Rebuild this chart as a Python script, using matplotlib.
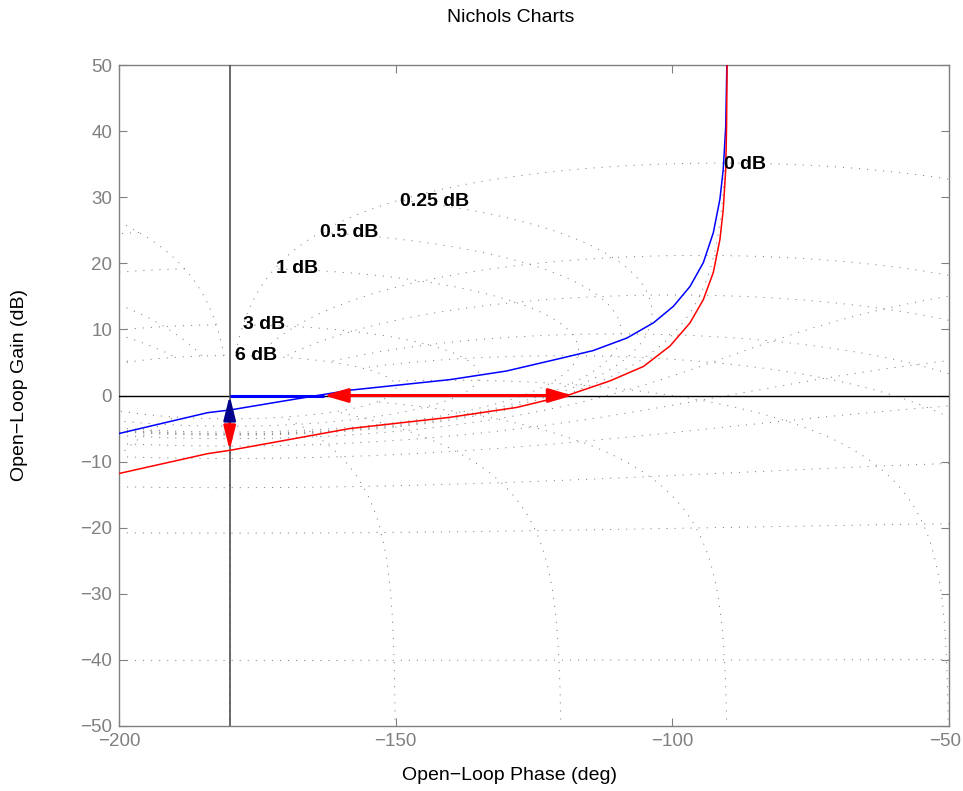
import numpy as np
import matplotlib
matplotlib.use("Agg")
import matplotlib.pyplot as plt
import matplotlib.transforms as mtransforms
from matplotlib.patches import FancyArrowPatch

# ---------------- data ----------------
blue_phase = [-200.0, -184.0, -180.0, -170.0, -158.3, -140.2, -130.0, -120.3, -114.3,
              -108.2, -103.4, -99.8, -96.8, -94.4, -92.6, -91.4, -90.8, -90.35, -90.15]
blue_gain = [-5.75, -2.6, -2.2, -0.8, 0.8, 2.4, 3.7, 5.6, 6.8,
             8.7, 11.0, 13.5, 16.5, 20.1, 24.6, 29.7, 34.2, 40.7, 50.0]

red_phase = [-200.0, -184.0, -180.0, -158.3, -140.2, -128.1, -118.5, -111.3, -105.2,
             -100.4, -96.8, -94.4, -92.6, -91.4, -90.8, -90.35, -90.2, -90.1]
red_gain = [-11.8, -8.8, -8.3, -5.0, -3.3, -1.8, 0.15, 2.2, 4.4,
            7.5, 11.0, 14.5, 18.6, 23.6, 28.1, 34.2, 40.7, 50.0]

# margins (arrows)
gm_blue = -2.2
gm_red = -8.3
pm_blue = -163.0
pm_red = -118.0
crit_phase = -180.0

# Nichols grid levels (closed-loop gain in dB, closed-loop phase in deg)
grid_gains_db = [6, 3, 1, 0.5, 0.25, 0, -1, -3, -6, -12, -20, -40, -60, -80, -100, -120]
grid_phases_deg = [-1, -5, -10, -20, -30, -50, -90, -120, -150, -180]
grid_cl_phase_min = 1.0      # closed-loop phase range of gain contours (deg)
grid_cl_gain_max = 6.0       # closed-loop gain range of phase contours (dB)

label_texts = ["6 dB", "3 dB", "1 dB", "0.5 dB", "0.25 dB", "0 dB"]
label_phase = [-179.0, -177.6, -171.6, -163.7, -149.2, -90.7]
label_gain = [6.1, 10.7, 19.2, 24.7, 29.3, 34.9]

x_ticks = [-200, -150, -100, -50]
y_ticks = [-50, -40, -30, -20, -10, 0, 10, 20, 30, 40, 50]

title_text = "Nichols Charts"
xlabel_text = "Open\u2212Loop Phase (deg)"
ylabel_text = "Open\u2212Loop Gain (dB)"

# ---------------- style ----------------
plt.rcParams["font.family"] = ["Liberation Sans", "DejaVu Sans"]
plt.rcParams["lines.scale_dashes"] = False
FS = 14
GRAY = "#808080"

fig = plt.figure(figsize=(9.63, 7.91), dpi=100)
ax = fig.add_axes([119 / 963, 1 - 726 / 791, (949 - 119) / 963, (726 - 65) / 791])
ax.set_xlim(-200, -50)
ax.set_ylim(-50, 50)

grid_kw = dict(color="0.5", lw=0.7, linestyle=(0, (0.8, 5.0)), zorder=1)


def m_contour(gdb):
    m = 10 ** (gdb / 20.0)
    th = np.radians(np.linspace(grid_cl_phase_min, 360 - grid_cl_phase_min, 6001))
    T = m * np.exp(1j * th)
    G = T / (1 - T)
    ph = np.degrees(np.unwrap(np.angle(G)))
    c = len(th) // 2
    ph = ph - np.round((ph[c] + 180.0) / 360.0) * 360.0
    return ph, 20 * np.log10(np.abs(G))


def n_line(psi):
    rmax = 10 ** (grid_cl_gain_max / 20.0)
    r = np.concatenate([np.logspace(-6, -0.05, 3000),
                        np.linspace(10 ** -0.05, rmax, 6000)])
    T = r * np.exp(1j * np.radians(psi))
    G = T / (1 - T)
    ph = np.degrees(np.unwrap(np.angle(G)))
    ph = ph - np.round((ph[0] - psi) / 360.0) * 360.0
    return ph, 20 * np.log10(np.abs(G))


for g in grid_gains_db:
    ph, gn = m_contour(g)
    ax.plot(ph, gn, **grid_kw)
for p in grid_phases_deg:
    ph, gn = n_line(p)
    ax.plot(ph, gn, **grid_kw)
    ax.plot(-360 - ph, gn, **grid_kw)

for t, xp, yp in zip(label_texts, label_phase, label_gain):
    ax.text(xp, yp, t, fontsize=FS, fontweight="bold", ha="left", va="center", zorder=6)

# reference lines
ax.axhline(0, color="black", lw=1.0, zorder=3)
ax.axvline(crit_phase, color="#505050", lw=1.2, zorder=3)

# response curves
ax.plot(blue_phase, blue_gain, color="#0000ff", lw=1.1, zorder=4)
ax.plot(red_phase, red_gain, color="#ff0000", lw=1.1, zorder=4)

# margin arrows
ax.plot([crit_phase, pm_blue], [0, 0], color="#0000ff", lw=2.2, zorder=5,
        solid_capstyle="butt")
ax.add_patch(FancyArrowPatch((pm_blue, 0), (pm_red, 0),
                             arrowstyle="<|-|>,head_length=1.2,head_width=0.35",
                             mutation_scale=12, lw=2.2, color="#ff0000",
                             shrinkA=0, shrinkB=0, zorder=5))
ax.add_patch(FancyArrowPatch((crit_phase, gm_blue), (crit_phase, gm_red),
                             arrowstyle="-|>,head_length=1.2,head_width=0.3",
                             mutation_scale=12, lw=2.0, color="#ff0000",
                             shrinkA=0, shrinkB=0, zorder=5))
ax.add_patch(FancyArrowPatch((crit_phase, gm_blue), (crit_phase, 0),
                             arrowstyle="-|>,head_length=1.2,head_width=0.3",
                             mutation_scale=12, lw=2.0, color="#00008b",
                             shrinkA=0, shrinkB=0, zorder=5))

# axes styling
ax.set_xticks(x_ticks)
ax.set_yticks(y_ticks)
ax.tick_params(direction="in", length=6, width=0.8, colors=GRAY, labelsize=FS - 0.5,
               top=True, right=True, pad=5)
for s in ax.spines.values():
    s.set_color(GRAY)
    s.set_linewidth(1.0)

# keep the last x tick label inside the canvas
last_lbl = ax.get_xticklabels()[-1]
last_lbl.set_transform(last_lbl.get_transform() +
                       mtransforms.ScaledTranslation(-4 / 100, 0, fig.dpi_scale_trans))

fig.text(511 / 963, 1 - 18 / 791, title_text, ha="center", va="center", fontsize=FS)
fig.text(510 / 963, 1 - 775 / 791, xlabel_text, ha="center", va="center", fontsize=FS)
fig.text(20 / 963, 1 - 385 / 791, ylabel_text, ha="center", va="center", rotation=90, fontsize=FS)

fig.savefig("out.png", dpi=100)
